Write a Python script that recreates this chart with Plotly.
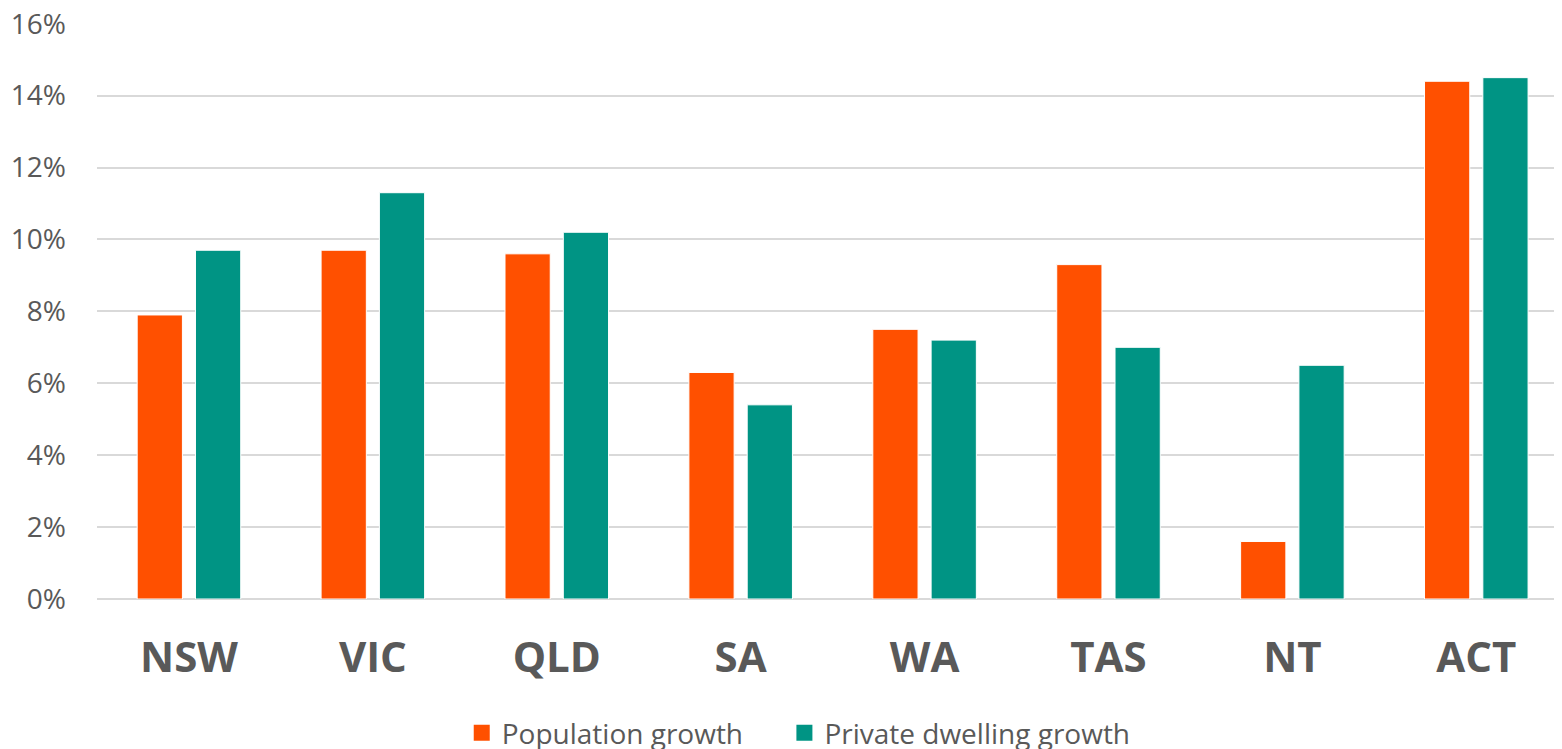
import plotly.graph_objects as go

categories = ["NSW", "VIC", "QLD", "SA", "WA", "TAS", "NT", "ACT"]
population_growth = [7.9, 9.7, 9.6, 6.3, 7.5, 9.3, 1.6, 14.4]
dwelling_growth = [9.7, 11.3, 10.2, 5.4, 7.2, 7.0, 6.5, 14.5]
series_names = ["Population growth", "Private dwelling growth"]
y_ticks = [0, 2, 4, 6, 8, 10, 12, 14, 16]
y_tick_labels = [f"{v}%" for v in y_ticks]

ORANGE = "#FF5000"
TEAL = "#009484"
GREY = "#595959"
FONT = "Open Sans, sans-serif"

fig = go.Figure()
for name, vals, col in zip(series_names, [population_growth, dwelling_growth], [ORANGE, TEAL]):
    fig.add_trace(go.Bar(
        name=name, x=categories, y=vals, showlegend=False,
        marker=dict(color=col, line=dict(color="white", width=1)),
    ))
# legend entries with larger square swatches (extra spacing after the first entry)
legend_pad = ["\u00a0" * 5, ""]
for name, col, pad in zip(series_names, [ORANGE, TEAL], legend_pad):
    fig.add_trace(go.Scatter(
        name=name + pad, x=[None], y=[None], mode="markers",
        marker=dict(symbol="square", size=18, color=col),
        hoverinfo="skip",
    ))

fig.update_layout(
    width=1554, height=741,
    margin=dict(l=89, r=0, t=15, b=150, autoexpand=False),
    paper_bgcolor="white", plot_bgcolor="white",
    barmode="group", bargap=0.366, bargroupgap=0.224,
    font=dict(family=FONT, color=GREY),
    showlegend=True,
    legend=dict(
        orientation="h", x=0.479, xanchor="center",
        yref="container", y=0.0216, yanchor="middle",
        font=dict(size=28, color=GREY, family=FONT),
        itemwidth=30, traceorder="normal",
    ),
    xaxis=dict(
        range=[-0.5, 7.466], showgrid=False, zeroline=False, showline=False,
        ticks="", tickfont=dict(size=42, color=GREY, family=FONT, weight="bold"),
        ticklabelstandoff=30, automargin=False,
    ),
    yaxis=dict(
        range=[0, 16.02], tickvals=y_ticks, ticktext=y_tick_labels,
        showgrid=True, gridcolor="#D9D9D9", gridwidth=1.5,
        zeroline=True, zerolinecolor="#D9D9D9", zerolinewidth=1.5,
        showline=False, ticks="",
        tickfont=dict(size=28, color=GREY, family=FONT),
        ticklabelstandoff=30, ticklabeloverflow="allow", automargin=False,
    ),
)

fig.write_html("out.html")
